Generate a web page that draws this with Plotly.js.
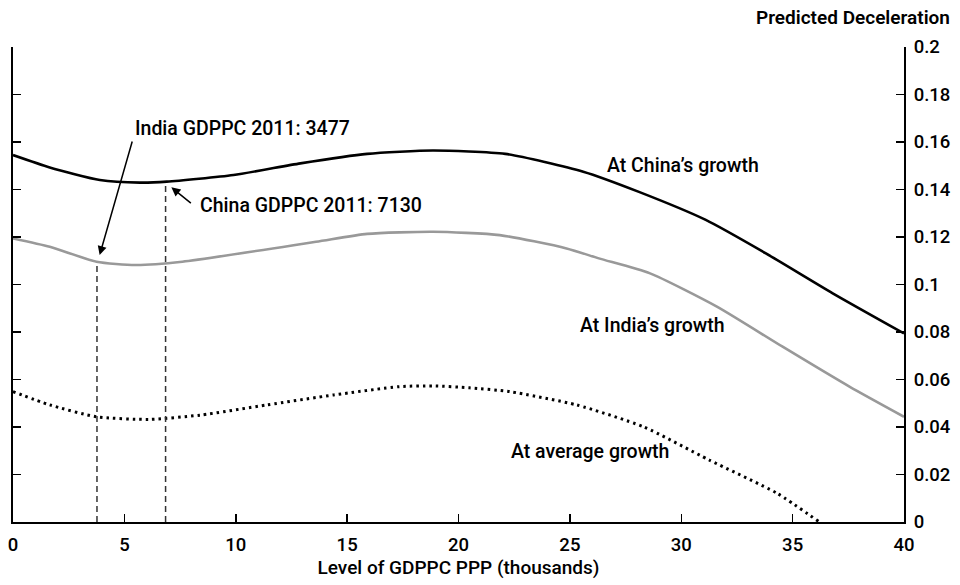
<!DOCTYPE html>
<html>
<head>
<meta charset="utf-8">
<script src="https://cdn.plot.ly/plotly-3.0.1.min.js"></script>
<style>html,body{margin:0;padding:0;background:#fff;}#chart{width:960px;height:585px;}</style>
</head>
<body>
<div id="chart"></div>
<script>
// Data (x in thousands of GDPPC PPP, y = predicted deceleration)
const chinaX = [0, 1.65, 3.9, 5.7, 6.9, 9.9, 12.9, 15.9, 18.85, 22.1, 25.6, 28.1, 31.1, 33.8, 36.8, 40];
const chinaY = [0.1545, 0.1493, 0.144, 0.1429, 0.1433, 0.1461, 0.151, 0.155, 0.1564, 0.155, 0.1475, 0.139, 0.1272, 0.1131, 0.0963, 0.0794];

const indiaX = [0, 1.65, 3.75, 5.5, 7.6, 13.6, 15.9, 18.85, 21.85, 24.85, 26.3, 28.6, 31.6, 34.55, 37.55, 40];
const indiaY = [0.1194, 0.1159, 0.1096, 0.1082, 0.1096, 0.118, 0.1213, 0.1222, 0.1208, 0.1152, 0.111, 0.1047, 0.0907, 0.0738, 0.057, 0.0443];

const avgX = [0, 1.65, 3.75, 6.1, 8.4, 11.4, 14.4, 17.35, 18.85, 20.5, 22.3, 25.3, 28.3, 31.25, 34.3, 36.2];
const avgY = [0.0549, 0.0493, 0.0443, 0.0432, 0.045, 0.0493, 0.0535, 0.057, 0.0573, 0.0565, 0.0549, 0.0493, 0.0401, 0.0261, 0.0121, 0];

// Vertical markers (India, China GDPPC 2011) as drawn
const markerX = [3.77, 6.85];
const markerTop = [0.1092, 0.1426];

const xTicks = [0, 5, 10, 15, 20, 25, 30, 35, 40];

const FONT = 'Roboto, "Liberation Sans", Arial, sans-serif';
const W = 500;

const traces = [
  {x: chinaX, y: chinaY, mode: 'lines', line: {color: '#000', width: 2.6, shape: 'spline', smoothing: 0.6}, hoverinfo: 'skip'},
  {x: indiaX, y: indiaY, mode: 'lines', line: {color: '#999', width: 2.6, shape: 'spline', smoothing: 0.6}, hoverinfo: 'skip'},
  {x: avgX, y: avgY, mode: 'lines', line: {color: '#000', width: 3, dash: '2.5px,4px', shape: 'spline', smoothing: 0.6}, hoverinfo: 'skip'},
  {x: [markerX[0], markerX[0]], y: [0, markerTop[0]], mode: 'lines', line: {color: '#333', width: 1.5, dash: '6px,4px'}, hoverinfo: 'skip'},
  {x: [markerX[1], markerX[1]], y: [0, markerTop[1]], mode: 'lines', line: {color: '#333', width: 1.5, dash: '6px,4px'}, hoverinfo: 'skip'}
];

const txt = (text, x, y) => ({text: text, x: x, y: y, xref: 'x', yref: 'y', showarrow: false, xanchor: 'left', yanchor: 'middle', font: {family: FONT, size: 19.5, color: '#000', weight: W}});

const annotations = [
  txt('India GDPPC 2011: 3477', 5.37, 0.1657),
  txt('China GDPPC 2011: 7130', 8.30, 0.1331),
  txt('At China\u2019s growth', 26.56, 0.1499),
  txt('At India\u2019s growth', 25.35, 0.0829),
  txt('At average growth', 22.26, 0.0295),
  {text: '', x: 3.89, y: 0.1124, xref: 'x', yref: 'y', showarrow: true, ax: 33, ay: -115, arrowhead: 2, arrowsize: 1.2, arrowwidth: 1.5, arrowcolor: '#000', standoff: 0},
  {text: '', x: 7.11, y: 0.1409, xref: 'x', yref: 'y', showarrow: true, ax: 21, ay: 17, arrowhead: 2, arrowsize: 1.2, arrowwidth: 1.5, arrowcolor: '#000', standoff: 0},
  {text: 'Predicted Deceleration', x: 1.0539, y: 1.063, xref: 'paper', yref: 'paper', xanchor: 'right', yanchor: 'middle', showarrow: false, font: {family: FONT, size: 19, color: '#000', weight: 600}}
];

const layout = {
  width: 960, height: 585,
  margin: {l: 13, r: 56, t: 47, b: 63},
  paper_bgcolor: '#fff', plot_bgcolor: '#fff',
  showlegend: false,
  font: {family: FONT, color: '#000', weight: W},
  xaxis: {
    range: [0, 40], tickmode: 'array', tickvals: xTicks,
    showline: true, linecolor: '#000', linewidth: 2,
    ticks: 'inside', ticklen: 8, tickwidth: 1.5, tickcolor: '#000',
    showgrid: false, zeroline: false, ticklabelstandoff: 5,
    tickfont: {family: FONT, size: 18.5, color: '#000', weight: W},
    title: {text: 'Level of GDPPC PPP (thousands)', font: {family: FONT, size: 19, color: '#000', weight: W}, standoff: 2}
  },
  yaxis: {
    range: [0, 0.2], dtick: 0.02, tick0: 0, side: 'right', mirror: 'ticks',
    showline: true, linecolor: '#000', linewidth: 2,
    ticks: 'inside', ticklen: 8, tickwidth: 1.5, tickcolor: '#000',
    showgrid: false, zeroline: false, ticklabelstandoff: 4,
    tickfont: {family: FONT, size: 18.5, color: '#000', weight: W}
  },
  annotations: annotations
};

Plotly.newPlot('chart', traces, layout, {staticPlot: true, displayModeBar: false});
</script>
</body>
</html>
